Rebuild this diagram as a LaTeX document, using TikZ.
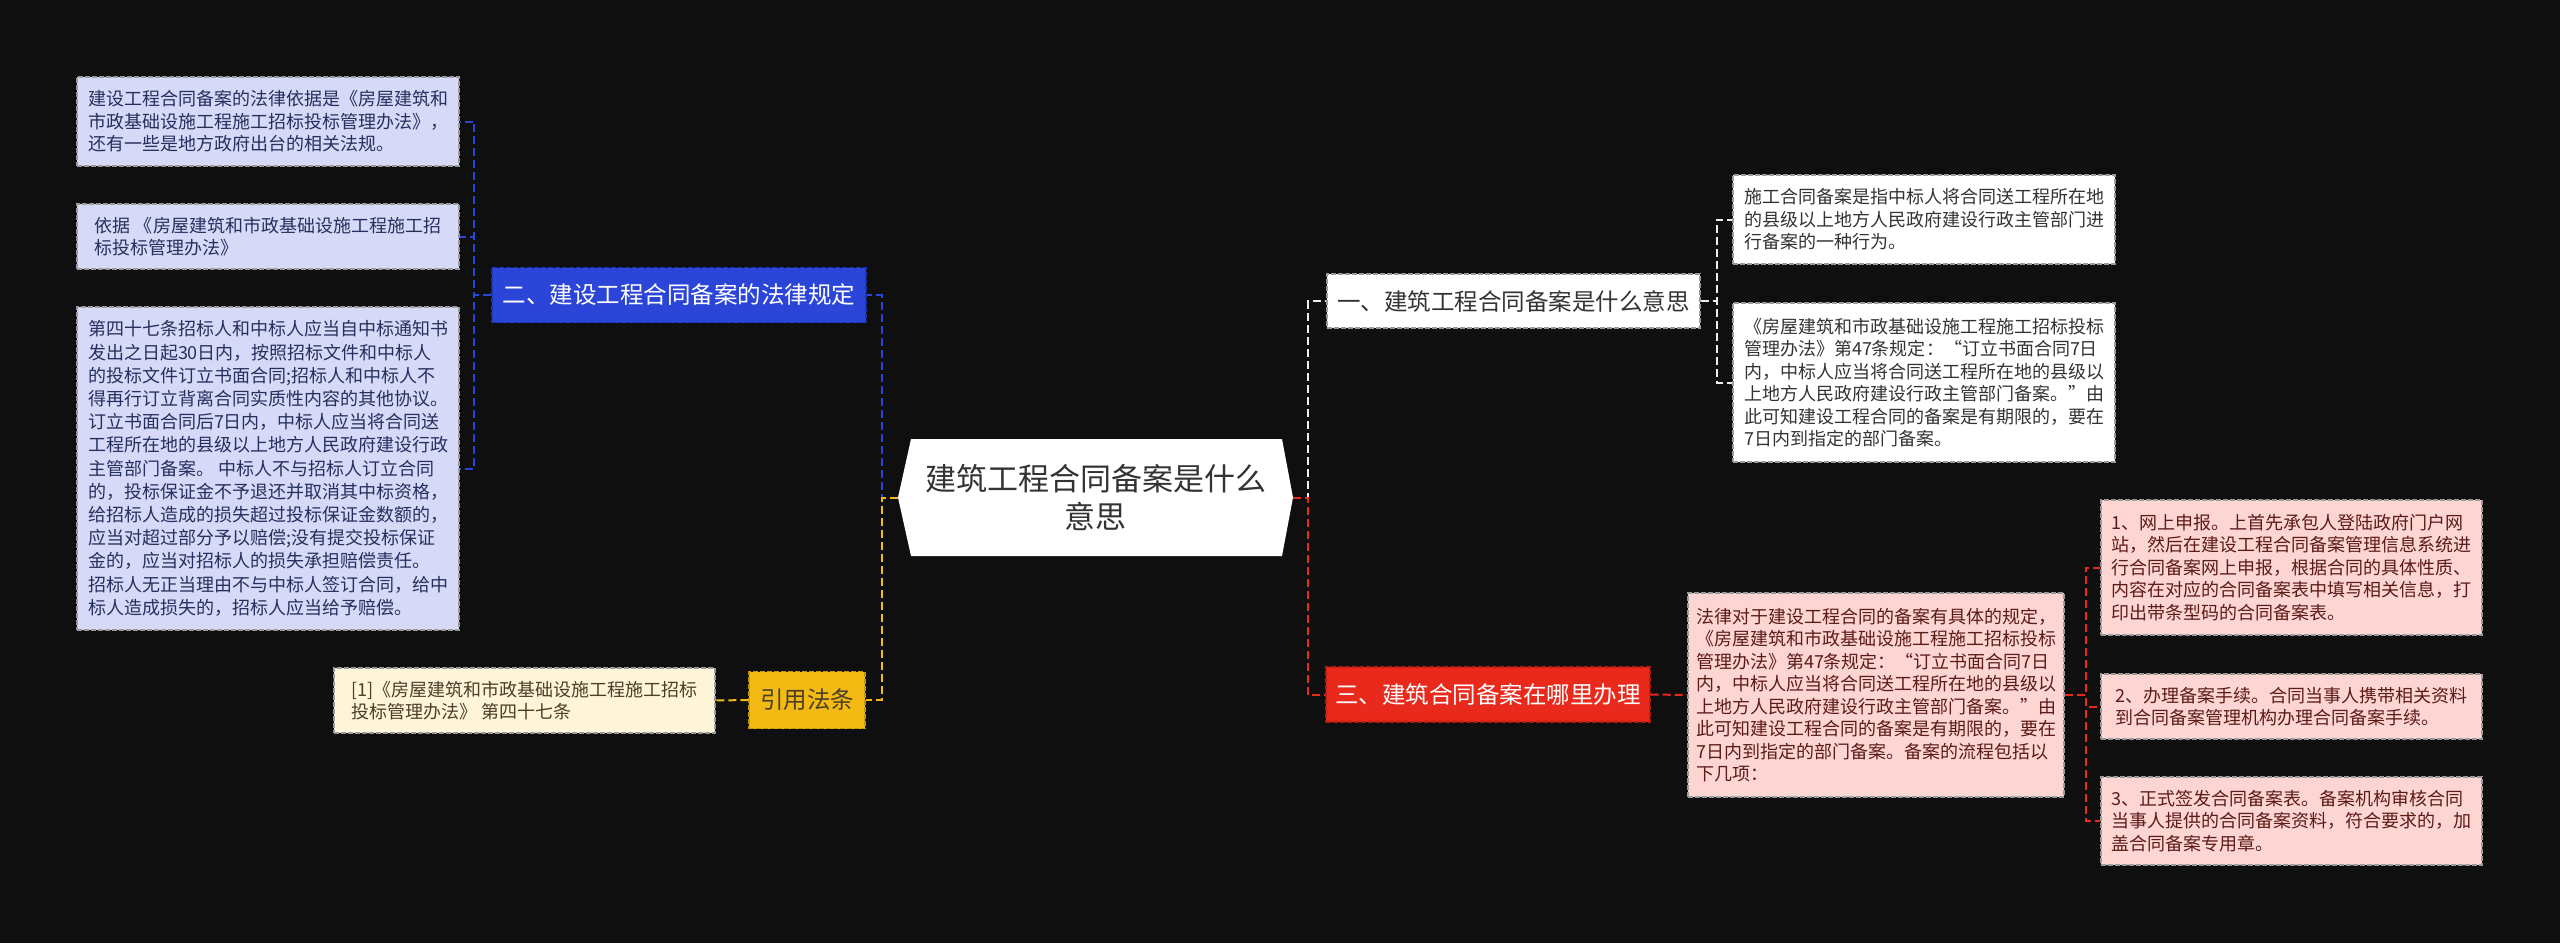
\documentclass[tikz,border=0pt]{standalone}
\usepackage{fontspec}
\setmainfont{Noto Sans CJK SC}

\definecolor{bgc}{HTML}{0F0F0F}
\definecolor{rootc}{HTML}{333333}
\definecolor{bluec}{HTML}{2B45D9}
\definecolor{blueb}{HTML}{1C33B0}
\definecolor{bluel}{HTML}{D6D9F7}
\definecolor{bluet}{HTML}{26305E}
\definecolor{redc}{HTML}{E8291C}
\definecolor{redb}{HTML}{B51D12}
\definecolor{redl}{HTML}{FDD6D3}
\definecolor{redt}{HTML}{5C1B17}
\definecolor{yelc}{HTML}{F2BA12}
\definecolor{yelb}{HTML}{C4960A}
\definecolor{yell}{HTML}{FEF4D8}
\definecolor{yelt}{HTML}{4A3F28}
\definecolor{whitec}{HTML}{EDEDED}
\definecolor{boxb}{HTML}{9A9A9A}

\begin{document}
\begin{tikzpicture}[x=1pt, y=-1pt,
    box/.style={rectangle, draw=boxb, dash pattern=on 5pt off 2pt, line width=1.2pt, inner sep=0pt},
    leaf/.style={box, align=left, minimum width=382pt, font=\fontsize{18}{22.5}\selectfont},
    branch/.style={box, align=center, minimum height=55pt, font=\fontsize{23.5}{28}\selectfont},
    link/.style={dash pattern=on 8pt off 4pt, line width=2pt}]

    % Background
    \fill[bgc] (0,0) rectangle (2560,943);
    \useasboundingbox (0,0) rectangle (2560,943);

    % Root
    \fill[white] (898,497.5) -- (911,439) -- (1282,439) -- (1293,497.5) -- (1282,556) -- (911,556) -- cycle;
    \node[minimum width=395pt, minimum height=117pt, inner sep=0pt, align=center, text=rootc,
          font=\fontsize{31}{38}\selectfont] (root) at (1095.5,497.5) {建筑工程合同备案是什么\\意思};

    % Branch: law
    \node[branch, fill=bluec, draw=blueb, text=white, minimum width=374pt] (law) at (679,295) {二、建设工程合同备案的法律规定};
    \node[leaf, fill=bluel, text=bluet, minimum height=89pt] (law1) at (268,121.5)
        {建设工程合同备案的法律依据是《房屋建筑和\\市政基础设施工程施工招标投标管理办法》，\\还有一些是地方政府出台的相关法规。};
    \node[leaf, fill=bluel, text=bluet, minimum height=65pt] (law2) at (268,236.5)
        {依据 《房屋建筑和市政基础设施工程施工招\\标投标管理办法》};
    \node[leaf, fill=bluel, text=bluet, minimum height=323pt, font=\fontsize{18}{23.2}\selectfont] (law3) at (268,468.5)
        {第四十七条招标人和中标人应当自中标通知书\\发出之日起30日内，按照招标文件和中标人\\的投标文件订立书面合同;招标人和中标人不\\得再行订立背离合同实质性内容的其他协议。\\订立书面合同后7日内，中标人应当将合同送\\工程所在地的县级以上地方人民政府建设行政\\主管部门备案。 中标人不与招标人订立合同\\的，投标保证金不予退还并取消其中标资格，\\给招标人造成的损失超过投标保证金数额的，\\应当对超过部分予以赔偿;没有提交投标保证\\金的，应当对招标人的损失承担赔偿责任。\\招标人无正当理由不与中标人签订合同，给中\\标人造成损失的，招标人应当给予赔偿。};

    % Branch: cite
    \node[branch, fill=yelc, draw=yelb, text=yelt, minimum width=116pt, minimum height=57pt] (cite) at (807,700) {引用法条};
    \node[leaf, fill=yell, text=yelt, minimum width=381pt, minimum height=65pt] (cite1) at (524.5,700.5)
        {[1]《房屋建筑和市政基础设施工程施工招标\\投标管理办法》 第四十七条};

    % Branch: what
    \node[branch, fill=white, text=rootc, minimum width=373pt, minimum height=54pt] (what) at (1513.5,301) {一、建筑工程合同备案是什么意思};
    \node[leaf, fill=white, text=rootc, minimum height=89pt] (what1) at (1924,219.5)
        {施工合同备案是指中标人将合同送工程所在地\\的县级以上地方人民政府建设行政主管部门进\\行备案的一种行为。};
    \node[leaf, fill=white, text=rootc, minimum height=159pt] (what2) at (1924,382.5)
        {《房屋建筑和市政基础设施工程施工招标投标\\管理办法》第47条规定：“订立书面合同7日\\内，中标人应当将合同送工程所在地的县级以\\上地方人民政府建设行政主管部门备案。”由\\此可知建设工程合同的备案是有期限的，要在\\7日内到指定的部门备案。};

    % Branch: where
    \node[branch, fill=redc, draw=redb, text=white, minimum width=324pt] (where) at (1488,694.5) {三、建筑合同备案在哪里办理};
    \node[leaf, fill=redl, text=redt, minimum width=376pt, minimum height=204pt] (where0) at (1876,695)
        {法律对于建设工程合同的备案有具体的规定，\\《房屋建筑和市政基础设施工程施工招标投标\\管理办法》第47条规定：“订立书面合同7日\\内，中标人应当将合同送工程所在地的县级以\\上地方人民政府建设行政主管部门备案。”由\\此可知建设工程合同的备案是有期限的，要在\\7日内到指定的部门备案。备案的流程包括以\\下几项：};
    \node[leaf, fill=redl, text=redt, minimum width=381pt, minimum height=135pt] (where1) at (2291.5,567.5)
        {1、网上申报。上首先承包人登陆政府门户网\\站，然后在建设工程合同备案管理信息系统进\\行合同备案网上申报，根据合同的具体性质、\\内容在对应的合同备案表中填写相关信息，打\\印出带条型码的合同备案表。};
    \node[leaf, fill=redl, text=redt, minimum width=381pt, minimum height=65pt] (where2) at (2291.5,706.5)
        {2、办理备案手续。合同当事人携带相关资料\\到合同备案管理机构办理合同备案手续。};
    \node[leaf, fill=redl, text=redt, minimum width=381pt, minimum height=88pt] (where3) at (2291.5,821)
        {3、正式签发合同备案表。备案机构审核合同\\当事人提供的合同备案资料，符合要求的，加\\盖合同备案专用章。};

    % Links from root
    \draw[link, bluec] (root.west) -- ++(-16,0) |- (law.east);
    \draw[link, yelc] (root.west) -- ++(-16,0) |- (cite.east);
    \draw[link, whitec] (root.east) -- ++(15,0) |- (what.west);
    \draw[link, redc] (root.east) -- ++(15,0) |- (where.west);

    % Links to leaves
    \draw[link, bluec] (law.west) -- ++(-17,0) |- (law1.east);
    \draw[link, bluec] (law.west) -- ++(-17,0) |- (law2.east);
    \draw[link, bluec] (law.west) -- ++(-17,0) |- (law3.east);
    \draw[link, yelc] (cite.west) -- (cite1.east);
    \draw[link, whitec] (what.east) -- ++(16,0) |- (what1.west);
    \draw[link, whitec] (what.east) -- ++(16,0) |- (what2.west);
    \draw[link, redc] (where.east) -- (where0.west);
    \draw[link, redc] (where0.east) -- ++(21,0) |- (where1.west);
    \draw[link, redc] (where0.east) -- ++(21,0) |- (where2.west);
    \draw[link, redc] (where0.east) -- ++(21,0) |- (where3.west);
\end{tikzpicture}
\end{document}
